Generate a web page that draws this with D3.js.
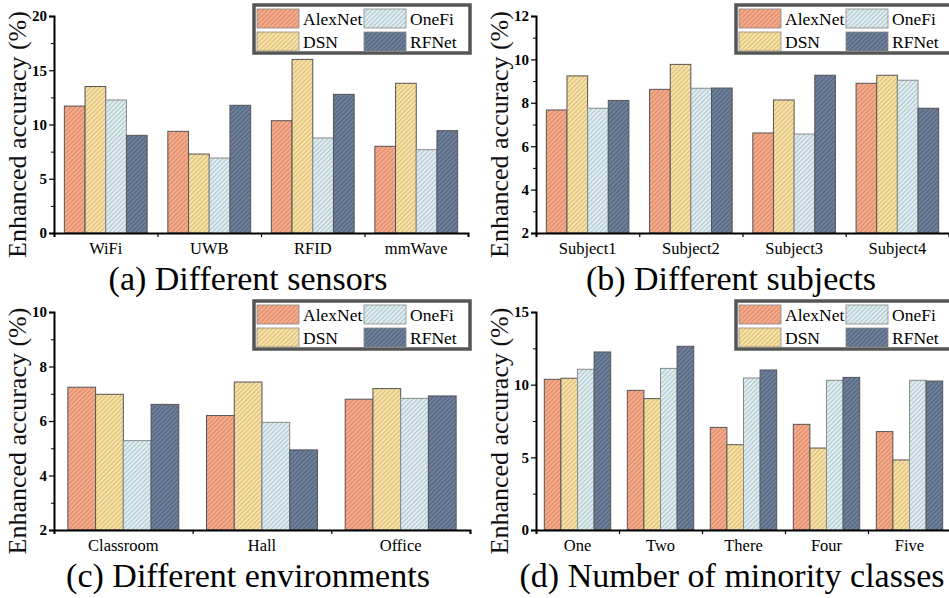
<!DOCTYPE html>
<html>
<head>
<meta charset="utf-8">
<script src="https://cdn.jsdelivr.net/npm/d3@7"></script>
<style>
  html, body { margin: 0; padding: 0; background: #fff; }
  svg { display: block; }
  text { font-family: "Liberation Serif", "Times New Roman", serif; }
</style>
</head>
<body>
<svg id="chart" width="949" height="598"></svg>
<script>
// ---------- data ----------
const seriesNames = ["AlexNet", "DSN", "OneFi", "RFNet"];

const sensorCats = ["WiFi", "UWB", "RFID", "mmWave"];
const sensorAlexNet = [11.7, 9.37, 10.35, 7.99];
const sensorDSN     = [13.5, 7.28, 16.0, 13.8];
const sensorOneFi   = [12.26, 6.91, 8.76, 7.68];
const sensorRFNet   = [9.0, 11.77, 12.78, 9.43];
const sensorTicks   = [0, 5, 10, 15, 20];

const subjectCats = ["Subject1", "Subject2", "Subject3", "Subject4"];
const subjectAlexNet = [7.67, 8.62, 6.61, 8.9];
const subjectDSN     = [9.24, 9.77, 8.13, 9.27];
const subjectOneFi   = [7.75, 8.67, 6.56, 9.04];
const subjectRFNet   = [8.11, 8.68, 9.27, 7.75];
const subjectTicks   = [2, 4, 6, 8, 10, 12];

const envCats = ["Classroom", "Hall", "Office"];
const envAlexNet = [7.24, 6.2, 6.8];
const envDSN     = [6.98, 7.43, 7.19];
const envOneFi   = [5.28, 5.95, 6.83];
const envRFNet   = [6.61, 4.94, 6.92];
const envTicks   = [2, 4, 6, 8, 10];

const minorityCats = ["One", "Two", "There", "Four", "Five"];
const minorityAlexNet = [10.37, 9.61, 7.06, 7.27, 6.77];
const minorityDSN     = [10.44, 9.04, 5.87, 5.64, 4.82];
const minorityOneFi   = [11.06, 11.12, 10.46, 10.3, 10.3];
const minorityRFNet   = [12.25, 12.64, 11.01, 10.5, 10.25];
const minorityTicks   = [0, 5, 10, 15];

const titles = ["(a) Different sensors", "(b) Different subjects",
                "(c) Different environments", "(d) Number of minority classes"];
const yLabel = "Enhanced accuracy (%)";

// ---------- styles ----------
const fills   = { AlexNet: "#F6AB8B", DSN: "#FAE1A4", OneFi: "#E2EEF1", RFNet: "#6F809C" };
const stripes = { AlexNet: "#D68768", DSN: "#D5B97D", OneFi: "#A7C2CA", RFNet: "#4F607A" };

const svg = d3.select("#chart");
svg.append("rect").attr("width", 949).attr("height", 598).attr("fill", "#fff");

const defs = svg.append("defs");
seriesNames.forEach(s => {
  const p = defs.append("pattern")
    .attr("id", "hatch-" + s)
    .attr("patternUnits", "userSpaceOnUse")
    .attr("width", 3.2).attr("height", 3.2)
    .attr("patternTransform", "rotate(45)");
  p.append("rect").attr("width", 3.2).attr("height", 3.2).attr("fill", fills[s]);
  p.append("line").attr("x1", 0.5).attr("y1", 0).attr("x2", 0.5).attr("y2", 3.2)
    .attr("stroke", stripes[s]).attr("stroke-width", 1);
});

function panel(cfg) {
  const g = svg.append("g");
  const n = cfg.cats.length;
  const x = d3.scaleBand().domain(cfg.cats).range([cfg.x0, cfg.x1])
    .paddingInner(0.2).paddingOuter(0.1);
  const xs = d3.scaleBand().domain(seriesNames).range([0, x.bandwidth()]);
  const y = d3.scaleLinear().domain(cfg.domain).range([cfg.yBottom, cfg.yTop]);

  const rows = cfg.cats.map((c, i) => ({ cat: c, vals: seriesNames.map(s => ({ s, v: cfg.values[s][i] })) }));

  const grp = g.selectAll("g.grp").data(rows).enter().append("g")
    .attr("transform", d => `translate(${x(d.cat)},0)`);
  grp.selectAll("rect").data(d => d.vals).enter().append("rect")
    .attr("x", d => xs(d.s))
    .attr("y", d => y(d.v))
    .attr("width", xs.bandwidth())
    .attr("height", d => y(cfg.domain[0]) - y(d.v))
    .attr("fill", d => `url(#hatch-${d.s})`)
    .attr("stroke", d => d.s === "OneFi" ? "#8a8a8a" : "#555")
    .attr("stroke-width", 1);

  // x axis: boundary ticks
  const xl = d3.scaleLinear().domain([0, n]).range([cfg.x0, cfg.x1]);
  const xa = g.append("g").attr("transform", `translate(0,${cfg.yBottom})`)
    .call(d3.axisBottom(xl).ticks(n).tickValues(d3.range(n + 1)).tickSize(4).tickFormat(""));
  xa.select(".domain").attr("stroke", "#000").attr("stroke-width", 2);
  xa.selectAll(".tick line").attr("stroke", "#000").attr("stroke-width", 1.2);

  // category labels
  const xc = g.append("g").attr("transform", `translate(0,${cfg.yBottom})`)
    .call(d3.axisBottom(x).tickSize(0).tickPadding(9));
  xc.select(".domain").remove();
  xc.selectAll("text").attr("font-size", 16.5).attr("fill", "#000")
    .attr("font-family", "Liberation Serif").attr("dy", "0.71em");

  // y axis
  const ya = g.append("g").attr("transform", `translate(${cfg.x0},0)`)
    .call(d3.axisLeft(y).tickValues(cfg.ticks).tickSize(5).tickPadding(2).tickFormat(d3.format("d")));
  ya.select(".domain").attr("stroke", "#000").attr("stroke-width", 2);
  ya.selectAll(".tick line").attr("stroke", "#000").attr("stroke-width", 1.2);
  ya.selectAll("text").attr("font-size", 15).attr("font-weight", "bold").attr("fill", "#000")
    .attr("font-family", "Liberation Serif");
  // minor ticks
  const minors = [];
  for (let i = 0; i < cfg.ticks.length - 1; i++) minors.push((cfg.ticks[i] + cfg.ticks[i + 1]) / 2);
  const ym = g.append("g").attr("transform", `translate(${cfg.x0},0)`)
    .call(d3.axisLeft(y).tickValues(minors).tickSize(3).tickFormat(""));
  ym.select(".domain").remove();
  ym.selectAll(".tick line").attr("stroke", "#000").attr("stroke-width", 1);

  // y label
  g.append("text")
    .attr("transform", `translate(${cfg.x0 - 28},${(cfg.yTop + cfg.yBottom) / 2 + 10}) rotate(-90)`)
    .attr("text-anchor", "middle")
    .attr("font-size", 26).attr("fill", "#111")
    .text(yLabel);

  // title
  g.append("text")
    .attr("x", cfg.titleX).attr("y", cfg.titleY)
    .attr("text-anchor", "middle")
    .attr("font-size", 34).attr("fill", "#000")
    .text(cfg.title);

  // legend
  const lx = cfg.x0 + 200, ly = cfg.yTop - 11;
  const lg = g.append("g").attr("transform", `translate(${lx},${ly})`);
  lg.append("rect").attr("x", 0).attr("y", 0).attr("width", 216).attr("height", 48)
    .attr("fill", "#fff").attr("stroke", "#555").attr("stroke-width", 3.5);
  const legPos = [
    { s: "AlexNet", dx: 3, dy: 4 }, { s: "OneFi", dx: 110, dy: 4 },
    { s: "DSN", dx: 3, dy: 27 }, { s: "RFNet", dx: 110, dy: 27 }
  ];
  legPos.forEach(p => {
    lg.append("rect").attr("x", p.dx).attr("y", p.dy).attr("width", 42).attr("height", 19)
      .attr("fill", `url(#hatch-${p.s})`).attr("stroke", "#888").attr("stroke-width", 0.8);
    lg.append("text").attr("x", p.dx + 46).attr("y", p.dy + 16)
      .attr("font-size", 17.5).attr("fill", "#000").text(p.s);
  });
}

panel({ cats: sensorCats, values: { AlexNet: sensorAlexNet, DSN: sensorDSN, OneFi: sensorOneFi, RFNet: sensorRFNet },
  domain: [0, 20], ticks: sensorTicks, x0: 54, x1: 468, yTop: 16, yBottom: 233,
  title: titles[0], titleX: 248, titleY: 290 });
panel({ cats: subjectCats, values: { AlexNet: subjectAlexNet, DSN: subjectDSN, OneFi: subjectOneFi, RFNet: subjectRFNet },
  domain: [2, 12], ticks: subjectTicks, x0: 536, x1: 949, yTop: 16, yBottom: 233,
  title: titles[1], titleX: 731, titleY: 290 });
panel({ cats: envCats, values: { AlexNet: envAlexNet, DSN: envDSN, OneFi: envOneFi, RFNet: envRFNet },
  domain: [2, 10], ticks: envTicks, x0: 54, x1: 470, yTop: 312, yBottom: 530,
  title: titles[2], titleX: 248, titleY: 587 });
panel({ cats: minorityCats, values: { AlexNet: minorityAlexNet, DSN: minorityDSN, OneFi: minorityOneFi, RFNet: minorityRFNet },
  domain: [0, 15], ticks: minorityTicks, x0: 536, x1: 951, yTop: 312, yBottom: 530,
  title: titles[3], titleX: 732, titleY: 587 });
</script>
</body>
</html>
